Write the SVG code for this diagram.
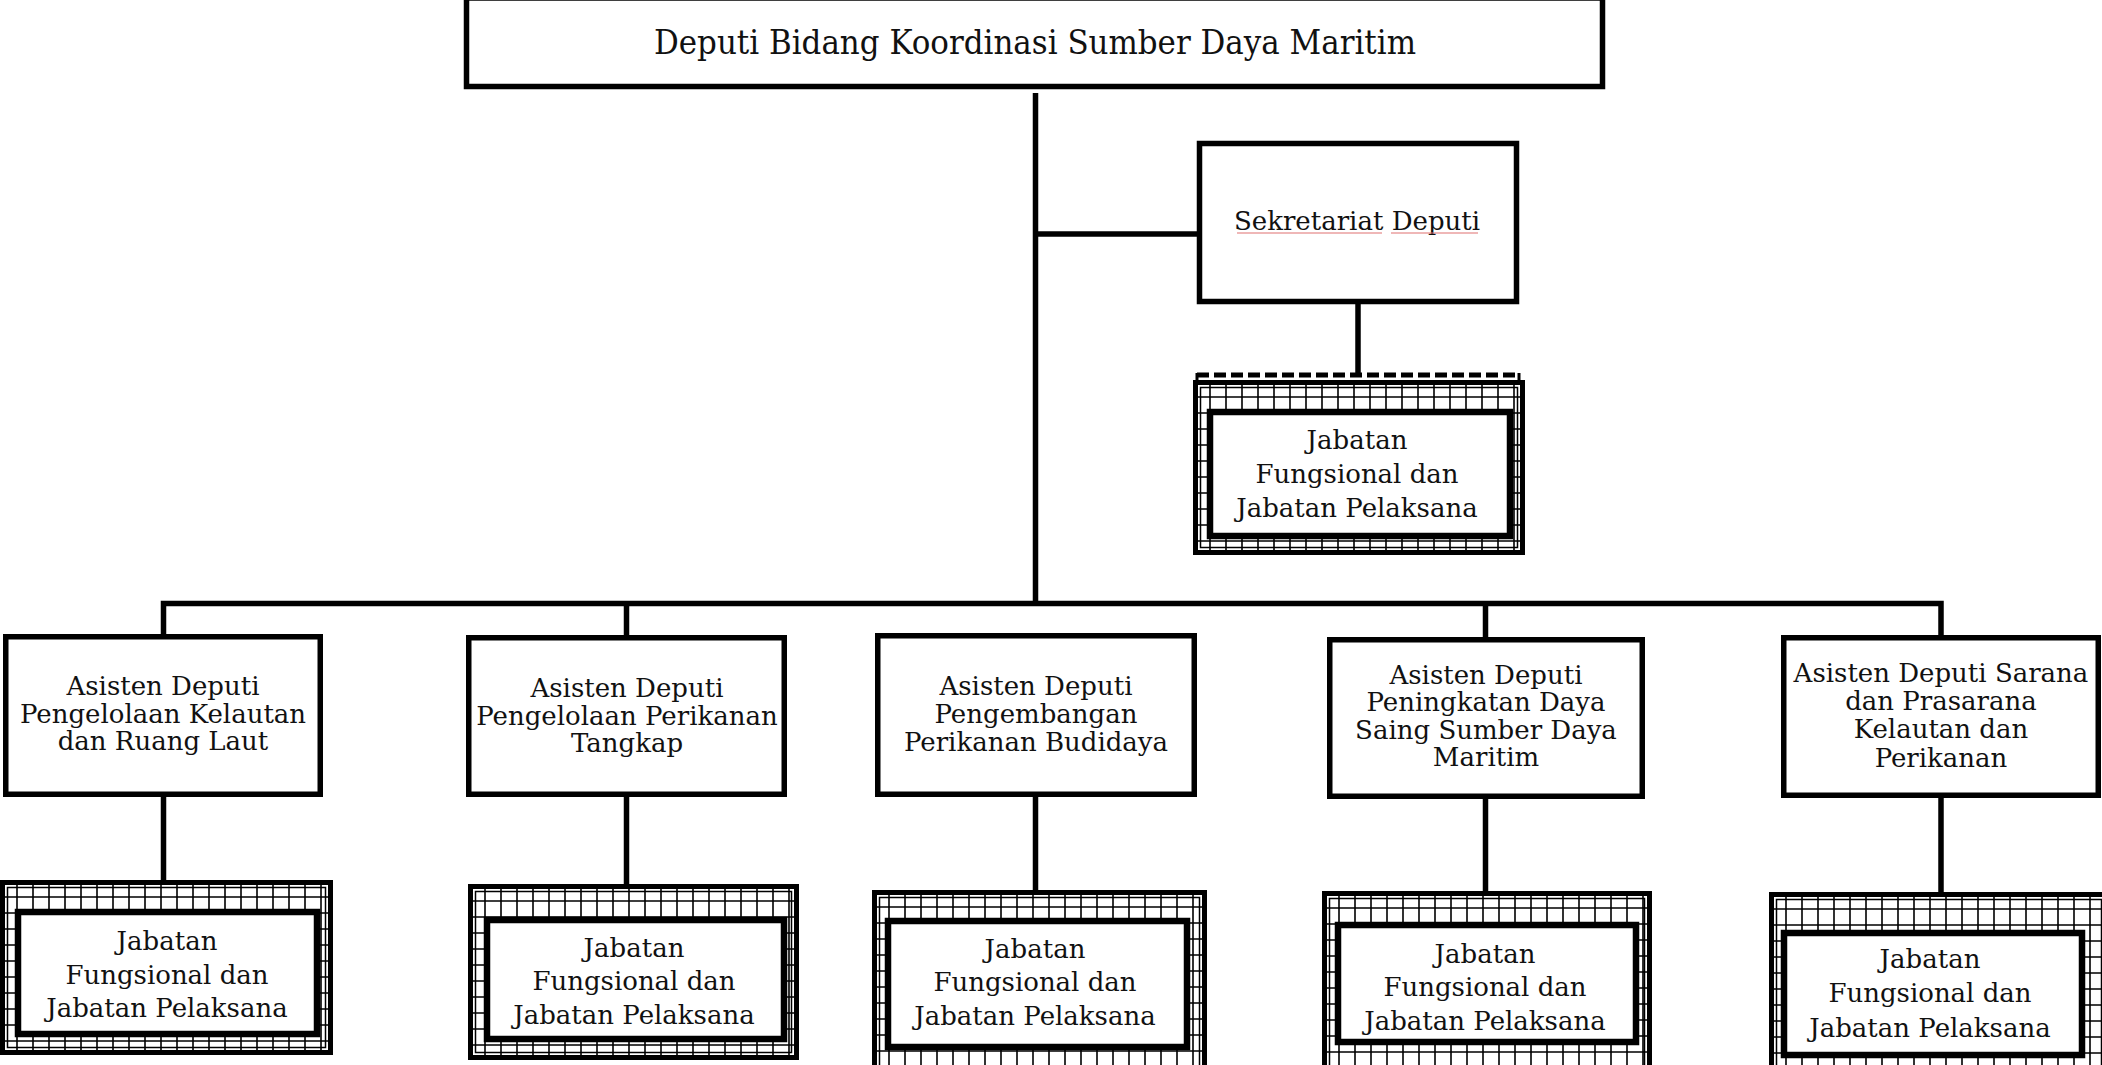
<svg xmlns="http://www.w3.org/2000/svg" width="2102" height="1065" viewBox="0 0 2102 1065">
  <style>
    .box { fill: #fff; stroke: #000; stroke-width: 5.5; }
    .frame { fill: url(#grid); stroke: #000; stroke-width: 5; }
    .edge { fill: none; stroke: #000; stroke-width: 1.5; }
    .inner { fill: #fff; stroke: #000; stroke-width: 6.5; }
    .wire { fill: none; stroke: #000; stroke-width: 5.5; stroke-linejoin: miter; }
    .dash { fill: none; stroke: #000; stroke-width: 5; stroke-dasharray: 12 5; }
    .spell { stroke: #e07070; stroke-width: 1.2; }
    text { font-family: "DejaVu Serif", "Liberation Serif", serif; font-size: 26px; fill: #111; text-anchor: middle; }
    .title { font-size: 34px; }
  </style>
  <defs>
    <!-- fine square mesh used around the staff boxes -->
    <pattern id="grid" patternUnits="userSpaceOnUse" width="16" height="16">
      <rect width="16" height="16" fill="#fff"/>
      <path d="M0 1H16M1 0V16" stroke="#000" stroke-width="1.6"/>
    </pattern>
  </defs>

  <!-- connectors -->
  <g id="connectors">
    <path class="wire" d="M1035.5 93V606"/>
    <path class="wire" d="M1035.5 234H1200"/>
    <path class="wire" d="M1358 304V376"/>
    <path class="wire" d="M163.5 637V603.5H1941V637"/>
    <path class="wire" d="M626.5 603.5V638"/>
    <path class="wire" d="M1485.5 603.5V640"/>
    <path class="wire" d="M163.5 797V881"/>
    <path class="wire" d="M626.5 797V885"/>
    <path class="wire" d="M1035.5 797V891"/>
    <path class="wire" d="M1485.5 799V892"/>
    <path class="wire" d="M1941 798V893"/>
  </g>

  <!-- head of the unit -->
  <g id="deputi">
    <rect class="box" x="466.5" y="-2" width="1136" height="88.5"/>
    <text class="title" x="1035" y="54" textLength="762" lengthAdjust="spacingAndGlyphs">Deputi Bidang Koordinasi Sumber Daya Maritim</text>
  </g>

  <!-- secretariat -->
  <g id="sekretariat">
    <rect class="box" x="1199.5" y="143.5" width="317" height="158"/>
    <text x="1357" y="230" font-size="24">Sekretariat Deputi</text>
    <line class="spell" x1="1237" y1="233" x2="1382" y2="233"/>
    <line class="spell" x1="1391" y1="233" x2="1478" y2="233"/>
  </g>

  <g id="jabatan-sekretariat">
    <path class="dash" d="M1197 375H1519"/>
    <path d="M1197 373V386M1519 373V386" stroke="#000" stroke-width="3"/>
    <g transform="translate(1193 380)">
      <rect class="frame" x="2.5" y="2.5" width="327" height="170"/>
      <rect class="edge" x="7.5" y="7.5" width="317" height="160"/>
      <rect class="inner" x="17" y="32" width="300" height="124"/>
    </g>
    <text x="1357" y="449">Jabatan</text>
    <text x="1357" y="483">Fungsional dan</text>
    <text x="1357" y="517">Jabatan Pelaksana</text>
  </g>

  <!-- assistant deputies -->
  <g id="asdep-1">
    <rect class="box" x="5.75" y="636.75" width="314.5" height="157.5"/>
    <text x="163" y="695">Asisten Deputi</text>
    <text x="163" y="723">Pengelolaan Kelautan</text>
    <text x="163" y="750">dan Ruang Laut</text>
  </g>
  <g id="asdep-2">
    <rect class="box" x="468.75" y="637.75" width="315.5" height="156.5"/>
    <text x="627" y="697">Asisten Deputi</text>
    <text x="627" y="725">Pengelolaan Perikanan</text>
    <text x="627" y="752">Tangkap</text>
  </g>
  <g id="asdep-3">
    <rect class="box" x="877.75" y="635.75" width="316.5" height="158.5"/>
    <text x="1036" y="695">Asisten Deputi</text>
    <text x="1036" y="723">Pengembangan</text>
    <text x="1036" y="751">Perikanan Budidaya</text>
  </g>
  <g id="asdep-4">
    <rect class="box" x="1329.75" y="639.75" width="312.5" height="156.5"/>
    <text x="1486" y="684">Asisten Deputi</text>
    <text x="1486" y="711">Peningkatan Daya</text>
    <text x="1486" y="739">Saing Sumber Daya</text>
    <text x="1486" y="766">Maritim</text>
  </g>
  <g id="asdep-5">
    <rect class="box" x="1783.75" y="637.75" width="314.5" height="157.5"/>
    <text x="1941" y="682">Asisten Deputi Sarana</text>
    <text x="1941" y="710">dan Prasarana</text>
    <text x="1941" y="738">Kelautan dan</text>
    <text x="1941" y="767">Perikanan</text>
  </g>

  <!-- functional / executive staff under each assistant deputy -->
  <g id="jabatan-1">
    <g transform="translate(0 880)">
      <rect class="frame" x="2.5" y="2.5" width="328" height="170"/>
      <rect class="edge" x="7.5" y="7.5" width="318" height="160"/>
      <rect class="inner" x="18" y="32" width="299" height="122"/>
    </g>
    <text x="167" y="950">Jabatan</text>
    <text x="167" y="984">Fungsional dan</text>
    <text x="167" y="1017">Jabatan Pelaksana</text>
  </g>
  <g id="jabatan-2">
    <g transform="translate(468 884)">
      <rect class="frame" x="2.5" y="2.5" width="326" height="171"/>
      <rect class="edge" x="7.5" y="7.5" width="316" height="161"/>
      <rect class="inner" x="19" y="36" width="297" height="119"/>
    </g>
    <text x="634" y="957">Jabatan</text>
    <text x="634" y="990">Fungsional dan</text>
    <text x="634" y="1024">Jabatan Pelaksana</text>
  </g>
  <g id="jabatan-3">
    <g transform="translate(872 890)">
      <rect class="frame" x="2.5" y="2.5" width="330" height="180"/>
      <rect class="edge" x="7.5" y="7.5" width="320" height="170"/>
      <rect class="inner" x="16" y="31" width="299" height="126"/>
    </g>
    <text x="1035" y="958">Jabatan</text>
    <text x="1035" y="991">Fungsional dan</text>
    <text x="1035" y="1025">Jabatan Pelaksana</text>
  </g>
  <g id="jabatan-4">
    <g transform="translate(1322 891)">
      <rect class="frame" x="2.5" y="2.5" width="325" height="180"/>
      <rect class="edge" x="7.5" y="7.5" width="315" height="170"/>
      <rect class="inner" x="16" y="34" width="298" height="117"/>
    </g>
    <text x="1485" y="963">Jabatan</text>
    <text x="1485" y="996">Fungsional dan</text>
    <text x="1485" y="1030">Jabatan Pelaksana</text>
  </g>
  <g id="jabatan-5">
    <g transform="translate(1769 892)">
      <rect class="frame" x="2.5" y="2.5" width="335" height="180"/>
      <rect class="edge" x="7.5" y="7.5" width="325" height="170"/>
      <rect class="inner" x="15" y="41" width="298" height="122"/>
    </g>
    <text x="1930" y="968">Jabatan</text>
    <text x="1930" y="1002">Fungsional dan</text>
    <text x="1930" y="1037">Jabatan Pelaksana</text>
  </g>
</svg>
